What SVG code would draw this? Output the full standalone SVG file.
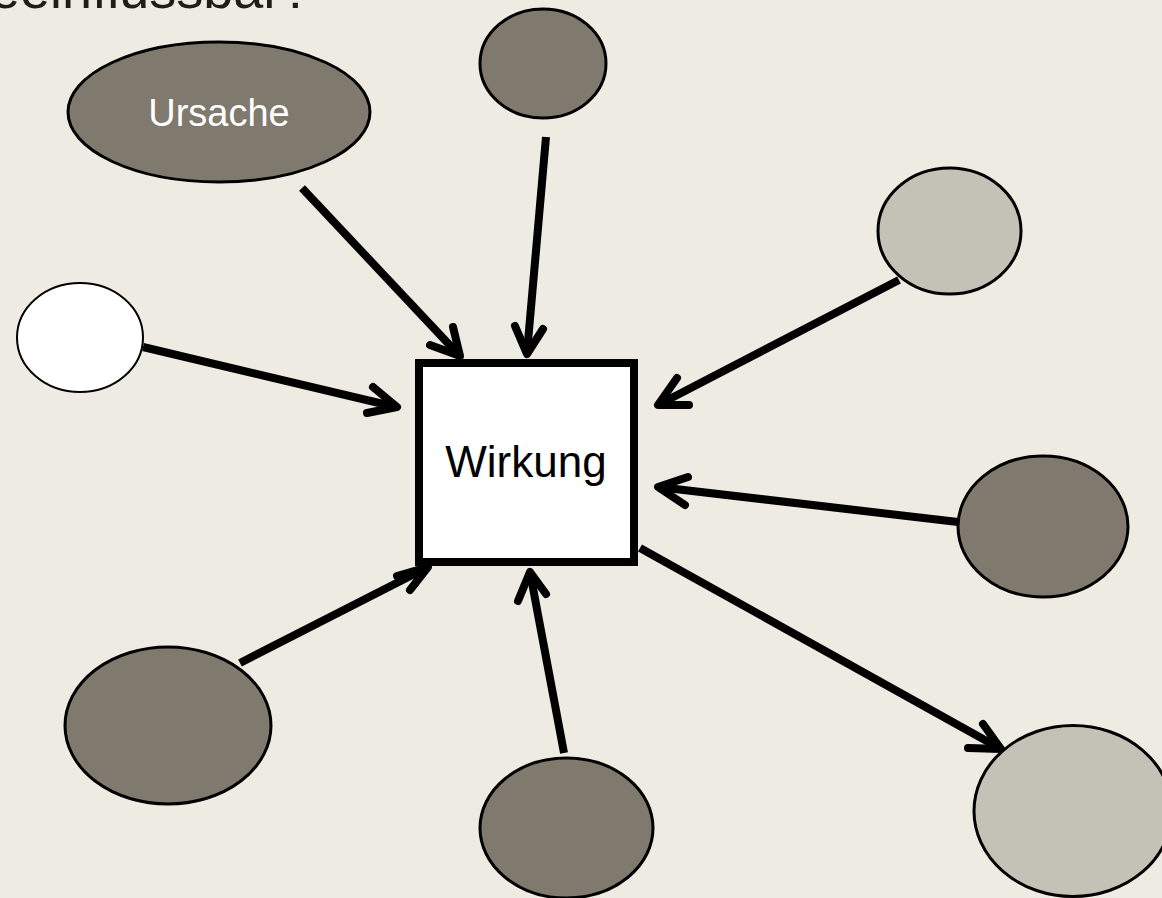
<svg xmlns="http://www.w3.org/2000/svg" width="1162" height="898" viewBox="0 0 1162 898">
<style>
.node{stroke:#000;stroke-width:3}
.dark{fill:#7F796E}
.light{fill:#C4C2B6}
.white{fill:#FFFFFF}
.con{fill:none;stroke:#000;stroke-width:8}
.head{fill:none;stroke:#000;stroke-width:8;stroke-linecap:round;stroke-linejoin:round}
.lbl{font-family:"Liberation Sans",Arial,sans-serif;text-anchor:middle}
</style>
<rect width="1162" height="898" fill="#EEEBE3"/>
<text x="-40" y="8" font-family="Liberation Sans, Arial, sans-serif" font-size="54" fill="#1E1E16">beeinflussbar?</text>
<g id="connectors">
<line class="con" x1="302" y1="188" x2="459" y2="355"/>
<polyline class="head" points="453,327 460,356 430,345"/>
<line class="con" x1="546" y1="137" x2="527" y2="353"/>
<polyline class="head" points="515,326 527,354 543,329"/>
<line class="con" x1="143" y1="347" x2="396" y2="407"/>
<polyline class="head" points="373,387 397,407 367,413"/>
<line class="con" x1="899" y1="280" x2="658" y2="405"/>
<polyline class="head" points="677,378 658,405 689,405"/>
<line class="con" x1="958" y1="522" x2="658" y2="487"/>
<polyline class="head" points="688,477 658,487 685,505"/>
<line class="con" x1="640" y1="548" x2="1001" y2="749"/>
<polyline class="head" points="983,724 1001,749 968,748"/>
<line class="con" x1="240" y1="663" x2="428" y2="567"/>
<polyline class="head" points="397,576 428,567 410,590"/>
<line class="con" x1="564" y1="753" x2="530" y2="572"/>
<polyline class="head" points="518,601 530,572 546,594"/>
</g>
<g id="ursache"><ellipse class="node dark" cx="219" cy="112" rx="151" ry="70"/><text class="lbl" x="219" y="126" font-size="38" fill="#FFFFFF">Ursache</text></g>
<g id="top"><ellipse class="node dark" cx="543" cy="63.5" rx="63" ry="54.5"/></g>
<g id="topright"><ellipse class="node light" cx="949.5" cy="231" rx="71.5" ry="63"/></g>
<g id="left"><ellipse class="node white" style="stroke-width:2" cx="80" cy="337.5" rx="63" ry="54.5"/></g>
<g id="right"><ellipse class="node dark" cx="1043" cy="526.5" rx="85" ry="70.5"/></g>
<g id="bottomleft"><ellipse class="node dark" cx="168" cy="725.5" rx="103" ry="78.5"/></g>
<g id="bottom"><ellipse class="node dark" cx="566.5" cy="828" rx="86.5" ry="70"/></g>
<g id="bottomright"><ellipse class="node light" cx="1073" cy="811" rx="99" ry="85.5"/></g>
<g id="wirkung"><rect x="419" y="363" width="215" height="199" fill="#FFFFFF" stroke="#000" stroke-width="8"/><text class="lbl" x="526" y="477" font-size="44" fill="#000">Wirkung</text></g>
</svg>
